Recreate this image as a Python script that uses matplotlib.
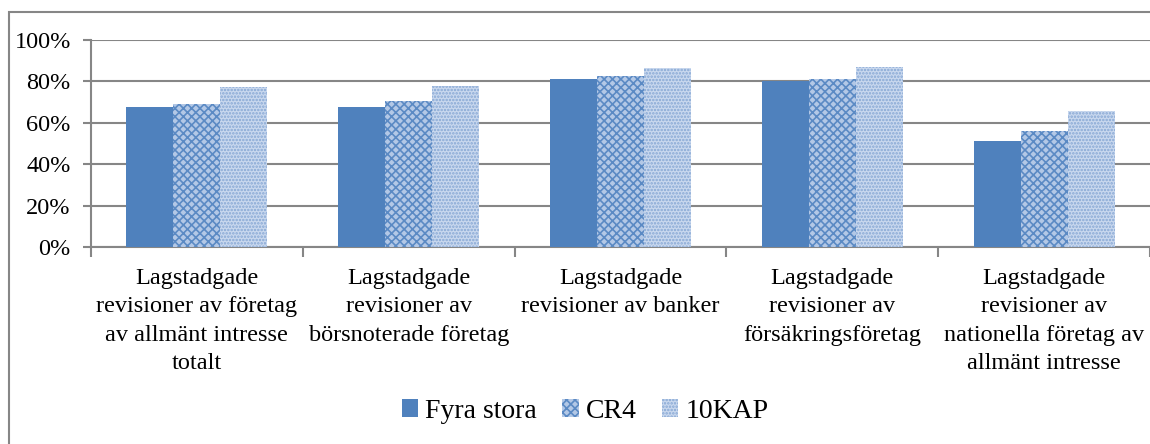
import matplotlib
matplotlib.use("Agg")
import matplotlib.pyplot as plt
import matplotlib.patches as mpatches
from matplotlib.ticker import FuncFormatter, FixedLocator
import numpy as np

categories = [
    "Lagstadgade\nrevisioner av företag\nav allmänt intresse\ntotalt",
    "Lagstadgade\nrevisioner av\nbörsnoterade företag",
    "Lagstadgade\nrevisioner av banker",
    "Lagstadgade\nrevisioner av\nförsäkringsföretag",
    "Lagstadgade\nrevisioner av\nnationella företag av\nallmänt intresse",
]
series_names = ["Fyra stora", "CR4", "10KAP"]
fyra_stora = [0.675, 0.675, 0.81, 0.80, 0.51]
cr4 = [0.69, 0.705, 0.825, 0.81, 0.56]
kap10 = [0.775, 0.78, 0.865, 0.87, 0.655]

plt.rcParams['font.family'] = ['Liberation Serif', 'DejaVu Serif']
plt.rcParams['hatch.linewidth'] = 1.2

fig = plt.figure(figsize=(11.5, 4.44), dpi=100)
ax = fig.add_axes([91/1150, 197/444, 1059/1150, 207/444])

grey = '#868686'
x = np.arange(len(categories))
w = 0.222
styles = [
    dict(facecolor='#4F81BD', edgecolor='#4F81BD', hatch=None),
    dict(facecolor='#b3c8e6', edgecolor='#5b8ac4', hatch='xxxx'),
    dict(facecolor='#c9d8ee', edgecolor='#86a7d4', hatch='.....'),
]
data = [fyra_stora, cr4, kap10]
for i, (vals, st) in enumerate(zip(data, styles)):
    ax.bar(x + (i - 1) * w, vals, width=w, linewidth=0, label=series_names[i], zorder=3, **st)

ax.set_xlim(-0.5, len(categories) - 0.5)
ax.set_ylim(0, 1.0)
ax.set_yticks(np.arange(0, 1.01, 0.2))
ax.yaxis.set_major_formatter(FuncFormatter(lambda v, p: f"{int(round(v*100))}%"))
ax.grid(axis='y', color=grey, linewidth=1.5, zorder=0)
ax.tick_params(axis='y', direction='out', length=6, width=1.5, color=grey, pad=8.5, labelsize=17.5)

ax.xaxis.set_major_locator(FixedLocator(np.arange(-0.5, len(categories))))
ax.xaxis.set_minor_locator(FixedLocator(x))
ax.set_xticklabels([''] * (len(categories) + 1))
ax.tick_params(axis='x', which='major', direction='out', length=7, width=1.5, color=grey)
ax.tick_params(axis='x', which='minor', length=0, pad=15, labelsize=17.5)
ax.set_xticklabels(categories, minor=True)
for t in ax.get_xticklabels(minor=True):
    t.set_linespacing(1.47)

for s in ['top', 'right']:
    ax.spines[s].set_visible(False)
for s in ['left', 'bottom']:
    ax.spines[s].set_color(grey)
    ax.spines[s].set_linewidth(1.5)

leg = fig.legend(loc='center', bbox_to_anchor=(585/1150, 1 - 411/444), ncol=3, frameon=False,
                 fontsize=20, handlelength=0.6, handleheight=0.6, handletextpad=0.25,
                 columnspacing=0.9)

fig.patches.append(mpatches.Rectangle((9/1150, -0.1), 1.2, (444 - 12)/444 + 0.1, transform=fig.transFigure,
                                      fill=False, edgecolor=grey, linewidth=1.5, zorder=-1))

fig.savefig('out.png', dpi=100)
